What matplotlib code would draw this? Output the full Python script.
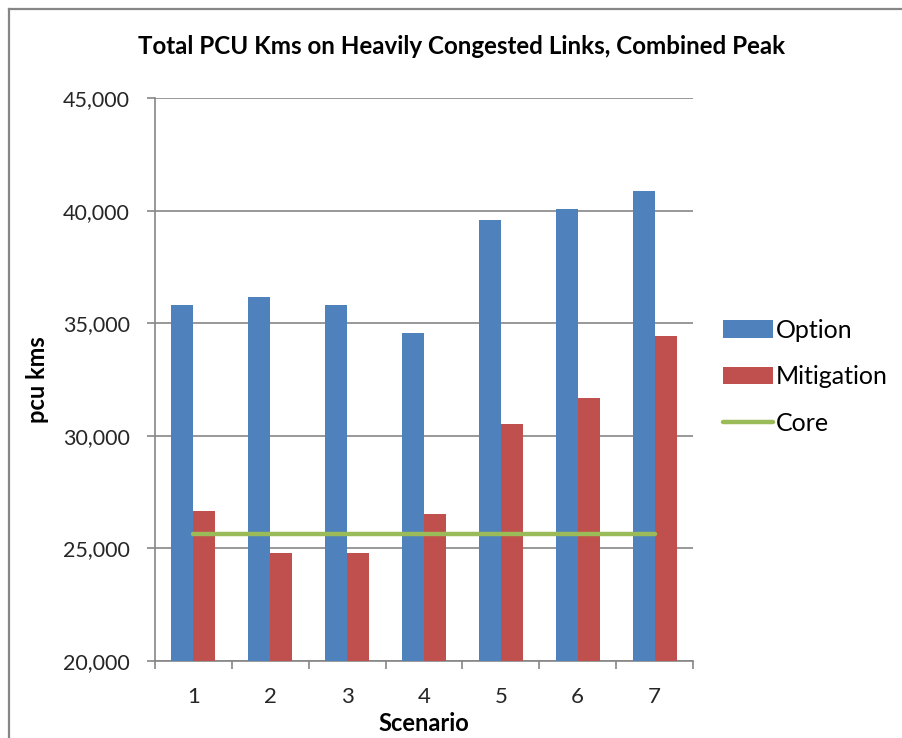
import numpy as np
import matplotlib
matplotlib.use("Agg")
import matplotlib.pyplot as plt
from matplotlib.lines import Line2D
from matplotlib.ticker import FuncFormatter

scenarios = ['1', '2', '3', '4', '5', '6', '7']
option = [35830, 36170, 35830, 34570, 39590, 40090, 40890]
mitigation = [26660, 24780, 24780, 26520, 30520, 31690, 34450]
core = [25640, 25640, 25640, 25640, 25640, 25640, 25640]

plt.rcParams['font.family'] = ['Lato', 'DejaVu Sans']

fig = plt.figure(figsize=(9.03, 7.38), dpi=100)
ax = fig.add_axes([155 / 903, 1 - 661 / 738, (693 - 155) / 903, (661 - 98) / 738])

x = np.arange(1, len(scenarios) + 1)
w = 0.2857
b1 = ax.bar(x - w / 2, option, width=w, color='#4F81BD', label='Option', zorder=3)
b2 = ax.bar(x + w / 2, mitigation, width=w, color='#C0504D', label='Mitigation', zorder=3)
l1, = ax.plot(x, core, color='#9BBB59', linewidth=3.2, solid_capstyle='round', label='Core', zorder=4)

ax.set_xlim(0.5, 7.5)
ax.set_ylim(20000, 45000)
ax.set_yticks(np.arange(20000, 45001, 5000))
ax.yaxis.set_major_formatter(FuncFormatter(lambda v, p: '{:,.0f}'.format(v)))
ax.set_xticks(x)
ax.set_xticklabels(scenarios)
ax.set_xticks(np.arange(0.5, 7.6, 1), minor=True)
ax.tick_params(axis='x', which='major', length=0, labelsize=16, colors='#262626', pad=19)
ax.tick_params(axis='x', which='minor', length=6, width=1.2, color='#868686')
ax.tick_params(axis='y', length=6, width=1.2, color='#868686', labelsize=15.5, labelcolor='#262626', pad=12)

ax.grid(axis='y', color='#868686', linewidth=1.2, zorder=0)
for s in ['top', 'right']:
    ax.spines[s].set_visible(False)
for s in ['left', 'bottom']:
    ax.spines[s].set_color('#868686')
    ax.spines[s].set_linewidth(1.2)

ax.set_xlabel('Scenario', fontsize=17, fontweight='bold', labelpad=3)
ax.set_ylabel('pcu kms', fontsize=17, fontweight='bold', labelpad=10)
fig.text(462 / 903, 1 - 47 / 738, 'Total PCU Kms on Heavily Congested Links, Combined Peak',
         ha='center', va='center', fontsize=17.4, fontweight='bold')

fig.legend([b1, b2, l1], ['Option', 'Mitigation', 'Core'], loc='center left',
           bbox_to_anchor=(700 / 903, 1 - 377 / 738), frameon=False,
           fontsize=18, handlelength=2.0, handletextpad=0.15, labelspacing=0.95)

# chart border (only top and left edges visible in the crop)
fig.add_artist(Line2D([8.5 / 903, 8.5 / 903], [0, 1 - 9 / 738], color='#868686', linewidth=1.6))
fig.add_artist(Line2D([8.5 / 903, 1], [1 - 9 / 738, 1 - 9 / 738], color='#868686', linewidth=1.6))

fig.savefig('out.png', dpi=100)
